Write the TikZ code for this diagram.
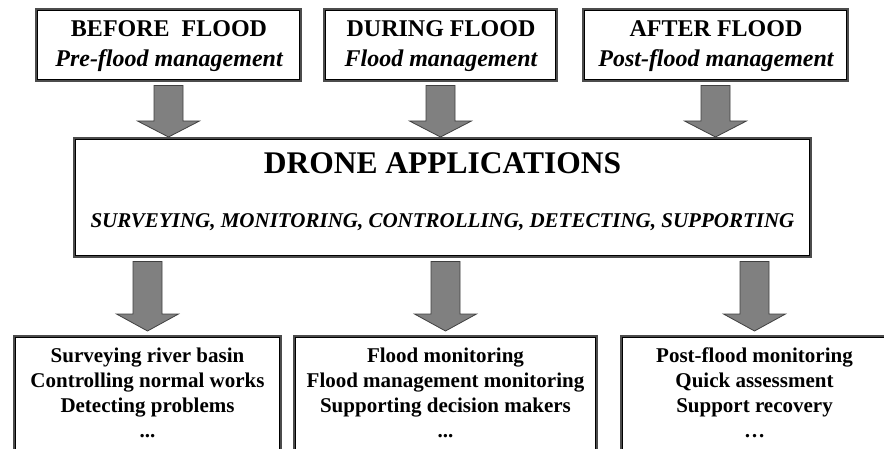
\documentclass[tikz,border=0pt]{standalone}
\usepackage{fontspec}
\setmainfont{Liberation Serif}
\usetikzlibrary{calc}

\tikzset{
  framebox/.style={draw=gray!60!black, line width=2pt, fill=white, inner sep=0pt},
  innerline/.style={draw=black, line width=0.9pt},
  barrow/.style={draw=black!75, line width=0.8pt, fill=black!50, line join=miter},
  headtxt/.style={font=\fontsize{24}{30}\selectfont\bfseries, align=center, inner sep=0pt, anchor=north},
  titletxt/.style={font=\fontsize{31.5}{36}\selectfont\bfseries, inner sep=0pt, anchor=base},
  subtxt/.style={font=\fontsize{21}{25}\selectfont\bfseries\itshape, inner sep=0pt, anchor=base},
  listtxt/.style={font=\fontsize{21}{25}\selectfont\bfseries, align=center, inner sep=0pt, anchor=north},
}

% block arrow: #1 node giving the x position, #2 upper node, #3 lower node,
% #4 offset of the head base above #3, #5 offset of the tip above #3
\newcommand{\blockarrow}[5]{%
  \draw[barrow] let \p1=(#1.center), \p2=(#2.south), \p3=(#3.north) in
    (\x1-14.5pt,\y2-3.5pt) -- (\x1+14.5pt,\y2-3.5pt) -- (\x1+14.5pt,\y3+#4) --
    (\x1+31pt,\y3+#4) -- (\x1,\y3+#5) -- (\x1-31pt,\y3+#4) --
    (\x1-14.5pt,\y3+#4) -- cycle;
}

\begin{document}
\begin{tikzpicture}[x=1pt, y=-1pt]
  \clip (0,0) rectangle (884,449);
  \fill[white] (0,0) rectangle (884,449);

  % phase boxes
  \node[framebox, minimum width=265pt, minimum height=72pt] (t1) at (168.5,45) {};
  \node[framebox, minimum width=233pt, minimum height=72pt] (t2) at (440.5,45) {};
  \node[framebox, minimum width=265pt, minimum height=72pt] (t3) at (715.5,45) {};

  % central box
  \node[framebox, minimum width=737pt, minimum height=119pt] (apps) at (442.5,197.5) {};

  % result boxes
  \node[framebox, minimum width=267pt, minimum height=115pt] (r1) at (147.5,393.5) {};
  \node[framebox, minimum width=303pt, minimum height=115pt] (r2) at (445.5,393.5) {};
  \node[framebox, minimum width=267pt, minimum height=115pt] (r3) at (754.5,393.5) {};

  % inner frame lines
  \foreach \n in {t1,t2,t3,apps,r1,r2,r3}
    \draw[innerline] ([shift={(2.8,2.8)}]\n.north west) rectangle ([shift={(-2.8,-2.8)}]\n.south east);

  % texts
  \node[headtxt] (t1txt) at (169,20.5) {BEFORE~~FLOOD\\\itshape Pre-flood management};
  \node[headtxt] (t2txt) at (441,20.5) {DURING FLOOD\\\itshape Flood management};
  \node[headtxt] (t3txt) at (716,20.5) {AFTER FLOOD\\\itshape Post-flood management};

  \node[titletxt] (title) at (442.5,174) {DRONE APPLICATIONS};
  \node[subtxt] (tasks) at (442.5,228) {SURVEYING, MONITORING, CONTROLLING, DETECTING, SUPPORTING};

  \node[listtxt] (r1txt) at (147.5,347.5) {Surveying river basin\\Controlling normal works\\Detecting problems\\...};
  \node[listtxt] (r2txt) at (445.5,347.5) {Flood monitoring\\Flood management monitoring\\Supporting decision makers\\...};
  \node[listtxt] (r3txt) at (754.5,347.5) {Post-flood monitoring\\Quick assessment\\Support recovery\\…};

  % arrows
  \blockarrow{t1}{t1}{apps}{16pt}{0pt}
  \blockarrow{t2}{t2}{apps}{16pt}{0pt}
  \blockarrow{t3}{t3}{apps}{16pt}{0pt}
  \blockarrow{r1}{apps}{r1}{21pt}{4pt}
  \blockarrow{r2}{apps}{r2}{21pt}{4pt}
  \blockarrow{r3}{apps}{r3}{21pt}{4pt}
\end{tikzpicture}
\end{document}
